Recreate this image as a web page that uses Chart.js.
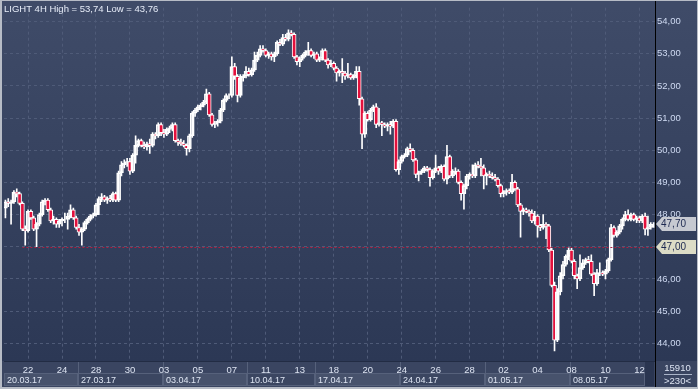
<!DOCTYPE html>
<html>
<head>
<meta charset="utf-8">
<script src="https://cdn.jsdelivr.net/npm/chart.js@4/dist/chart.umd.min.js"></script>
<style>
  html, body { margin: 0; padding: 0; background: #b7bcc6; }
  canvas { display: block; }
</style>
</head>
<body>
<canvas id="chart" width="698" height="389"></canvas>
<script>
// LIGHT 4H candles, 20.03.17 - 12.05.17 (230 bars)
const opens = [
  48.20,48.40,48.35,48.40,48.70,48.65,48.35,47.55,47.50,48.10,
  47.90,47.55,47.70,48.00,48.40,48.45,48.15,47.80,47.85,47.70,
  47.80,47.85,47.85,47.95,48.15,47.90,47.60,47.45,47.55,47.75,
  47.85,47.95,48.00,48.30,48.50,48.55,48.45,48.50,48.45,48.65,
  48.45,49.30,49.55,49.60,49.65,49.35,49.85,50.15,50.30,50.15,
  50.10,50.20,50.15,50.50,50.45,50.80,50.55,50.50,50.65,50.70,
  50.80,50.30,50.25,50.20,50.15,50.05,50.45,51.15,51.25,51.35,
  51.40,51.50,51.75,51.10,50.80,50.85,50.90,51.25,51.55,51.70,
  51.70,52.60,52.30,51.70,52.25,52.30,52.45,52.35,52.50,52.80,
  52.95,53.15,53.10,52.95,53.00,52.90,53.00,53.35,53.30,53.50,
  53.45,53.65,53.60,52.90,52.75,52.85,52.95,53.05,53.10,52.95,
  53.00,52.80,52.85,53.10,52.80,52.65,52.70,52.55,52.40,52.45,
  52.40,52.30,52.35,52.25,52.30,52.45,51.60,50.50,51.15,50.95,
  51.25,51.35,50.80,50.85,50.80,50.75,50.80,50.75,50.90,49.40,
  49.65,49.80,49.85,50.05,50.00,49.70,49.25,49.30,49.35,49.45,
  49.40,49.15,49.35,49.45,49.35,49.50,49.10,49.80,49.20,49.35,
  49.35,49.00,48.65,48.90,49.20,49.25,49.20,49.55,49.50,49.45,
  49.20,49.25,49.20,49.15,49.10,48.90,48.65,48.70,48.75,48.70,
  49.00,48.80,48.30,48.10,48.15,48.10,48.05,47.80,47.95,47.65,
  47.60,47.70,47.65,46.90,45.80,44.10,45.60,46.10,46.45,46.70,
  46.90,46.55,46.10,46.00,46.35,46.50,46.60,46.55,46.15,45.85,
  46.20,46.20,46.15,46.25,46.60,47.60,47.35,47.45,47.65,47.85,
  48.00,47.85,48.00,47.85,47.90,47.80,47.95,47.55,47.60,47.70
];
const highs = [
  48.45,48.50,48.45,48.75,48.80,48.70,48.40,47.65,48.15,48.15,
  47.95,47.75,48.05,48.45,48.50,48.50,48.20,47.95,47.90,47.85,
  47.90,48.05,48.05,48.30,48.20,47.95,47.70,47.60,47.80,47.90,
  48.00,48.05,48.35,48.55,48.65,48.60,48.55,48.60,48.70,48.70,
  49.35,49.65,49.70,49.75,49.75,49.90,50.45,50.35,50.35,50.25,
  50.25,50.35,50.55,50.55,50.85,50.85,50.65,50.70,50.75,50.85,
  50.85,50.35,50.35,50.30,50.20,50.50,51.20,51.30,51.40,51.45,
  51.55,51.90,51.80,51.15,50.90,50.95,51.30,51.60,51.75,51.75,
  52.90,52.70,52.35,52.35,52.35,52.60,52.55,52.55,53.05,53.05,
  53.25,53.25,53.15,53.05,53.05,53.05,53.40,53.45,53.60,53.60,
  53.74,53.72,53.65,52.95,52.90,53.00,53.10,53.35,53.15,53.05,
  53.05,52.90,53.15,53.15,52.85,52.80,52.75,52.60,52.50,52.85,
  52.45,52.70,52.40,52.35,52.60,52.60,51.65,51.20,51.20,51.30,
  51.40,51.45,51.30,50.90,50.85,50.85,50.90,50.95,50.95,49.70,
  49.85,49.90,50.10,50.20,50.05,49.75,49.35,49.40,49.50,49.50,
  49.45,49.40,49.85,49.50,49.55,49.55,50.15,49.85,49.40,49.45,
  49.40,49.05,48.95,49.25,49.30,49.55,49.60,49.65,49.75,49.55,
  49.30,49.35,49.30,49.25,49.15,48.95,48.75,48.80,48.80,49.25,
  49.05,48.85,48.35,48.20,48.20,48.15,48.15,48.10,48.00,47.70,
  48.00,47.75,47.70,46.95,45.90,45.70,46.20,46.55,46.75,46.97,
  46.95,46.60,46.15,46.75,46.60,46.65,46.70,46.75,46.20,46.30,
  46.50,46.25,46.30,46.65,47.70,47.65,47.50,47.70,47.90,48.10,
  48.15,48.05,48.05,47.95,47.95,48.00,48.05,47.95,47.75,47.75
];
const lows = [
  47.90,48.25,47.70,48.35,48.55,48.30,47.50,47.05,47.45,47.85,
  47.50,47.00,47.65,47.95,48.30,48.10,47.75,47.70,47.60,47.60,
  47.65,47.75,47.55,47.90,47.85,47.55,47.35,47.05,47.50,47.70,
  47.80,47.90,47.95,48.00,48.40,48.40,48.35,48.40,48.40,48.40,
  48.40,49.20,49.45,49.50,49.25,49.30,49.60,50.10,50.10,50.05,
  50.00,49.90,50.10,50.35,50.40,50.45,50.40,50.45,50.55,50.60,
  50.25,50.15,50.15,50.10,49.85,49.95,50.40,51.05,51.20,51.25,
  51.35,51.45,51.05,50.75,50.70,50.75,50.85,51.20,51.50,51.60,
  51.65,52.20,51.50,51.65,52.15,52.25,52.30,52.30,52.45,52.75,
  52.90,53.05,52.90,52.85,52.80,52.75,52.95,53.25,53.25,53.40,
  53.40,53.55,52.85,52.65,52.60,52.80,52.90,52.95,52.90,52.85,
  52.75,52.75,52.80,52.75,52.55,52.60,52.50,52.15,52.30,52.10,
  52.20,52.25,52.20,52.20,52.25,51.40,50.05,50.40,50.90,50.90,
  51.20,50.70,50.75,50.45,50.70,50.60,50.50,50.70,49.35,49.25,
  49.60,49.75,49.80,49.95,49.65,49.15,49.05,49.25,49.30,49.35,
  48.88,49.10,49.30,49.25,49.30,49.05,48.95,49.15,49.15,49.25,
  48.95,48.45,48.17,48.80,49.10,49.15,49.15,49.45,49.20,48.80,
  48.92,49.15,49.10,49.05,48.85,48.55,48.55,48.60,48.65,48.65,
  48.75,48.25,47.30,48.00,48.05,47.95,47.75,47.70,47.30,47.50,
  47.55,47.25,46.85,45.75,43.76,44.05,45.50,46.00,46.40,46.60,
  46.50,46.00,45.70,45.95,46.30,46.45,46.50,46.10,45.48,45.80,
  46.10,46.10,46.00,46.20,46.55,47.30,47.30,47.40,47.55,47.80,
  47.80,47.80,47.80,47.75,47.75,47.75,47.37,47.35,47.55,47.60
];
const closes = [
  48.40,48.35,48.40,48.70,48.65,48.35,47.55,47.50,48.10,47.90,
  47.55,47.70,48.00,48.40,48.45,48.15,47.80,47.85,47.70,47.80,
  47.85,47.85,47.95,48.15,47.90,47.60,47.45,47.55,47.75,47.85,
  47.95,48.00,48.30,48.50,48.55,48.45,48.50,48.45,48.65,48.45,
  49.30,49.55,49.60,49.65,49.35,49.85,50.15,50.30,50.15,50.10,
  50.20,50.15,50.50,50.45,50.80,50.55,50.50,50.65,50.70,50.80,
  50.30,50.25,50.20,50.15,50.05,50.45,51.15,51.25,51.35,51.40,
  51.50,51.75,51.10,50.80,50.85,50.90,51.25,51.55,51.70,51.70,
  52.60,52.30,51.70,52.25,52.30,52.45,52.35,52.50,52.80,52.95,
  53.15,53.10,52.95,53.00,52.90,53.00,53.35,53.30,53.50,53.45,
  53.65,53.60,52.90,52.75,52.85,52.95,53.05,53.10,52.95,53.00,
  52.80,52.85,53.10,52.80,52.65,52.70,52.55,52.40,52.45,52.40,
  52.30,52.35,52.25,52.30,52.45,51.60,50.50,51.15,50.95,51.25,
  51.35,50.80,50.85,50.80,50.75,50.80,50.75,50.90,49.40,49.65,
  49.80,49.85,50.05,50.00,49.70,49.25,49.30,49.35,49.45,49.40,
  49.15,49.35,49.45,49.35,49.50,49.10,49.80,49.20,49.35,49.35,
  49.00,48.65,48.90,49.20,49.25,49.20,49.55,49.50,49.45,49.20,
  49.25,49.20,49.15,49.10,48.90,48.65,48.70,48.75,48.70,49.00,
  48.80,48.30,48.10,48.15,48.10,48.05,47.80,47.95,47.65,47.60,
  47.70,47.65,46.90,45.80,44.10,45.60,46.10,46.45,46.70,46.90,
  46.55,46.10,46.00,46.35,46.50,46.60,46.55,46.15,45.85,46.20,
  46.20,46.15,46.25,46.60,47.60,47.35,47.45,47.65,47.85,48.00,
  47.85,48.00,47.85,47.90,47.80,47.95,47.55,47.60,47.70,47.70
];

// x axis: day labels every second trading day, week blocks below
const dayTickIndex = [8,20,32,44,56,68,80,92,104,116,128,140,152,164,176,188,200,212,224];
const dayTickLabels = ['22','24','28','30','03','05','07','11','13','18','20','24','26','28','02','04','08','10','12'];
const weekStartIndex = [0,26,56,86,110,140,170,200];
const weekLabels = ['20.03.17','27.03.17','03.04.17','10.04.17','17.04.17','24.04.17','01.05.17','08.05.17'];

const titleText = 'LIGHT 4H High = 53,74 Low = 43,76';
const refLevel = 47.00;
const refStartIndex = 6;
const volumeText = '15910';
const barsText = '>230<';

const FONT = 'Liberation Sans, Arial, sans-serif';
const fmt = v => v.toFixed(2).replace('.', ',');

const bodyFill = closes.map((c, i) => c < opens[i] ? '#e3103c' : 'rgba(0,0,0,0)');

const backdrop = {
  id: 'backdrop',
  beforeDraw(chart) {
    const { ctx, chartArea: a, width: W, height: H } = chart;
    ctx.save();
    ctx.fillStyle = '#b7bcc6';
    ctx.fillRect(0, 0, W, H);

    const g = ctx.createLinearGradient(0, a.top, 0, a.bottom);
    g.addColorStop(0, '#3f4b68');
    g.addColorStop(1, '#2c3855');
    ctx.fillStyle = g;
    ctx.fillRect(2, 1, W - 3, a.bottom - 1);

    // bottom strip
    ctx.fillStyle = '#3a4561';
    ctx.fillRect(2, a.bottom, W - 3, H - 2 - a.bottom);

    const xs = chart.scales.x;
    const half = (xs.getPixelForValue(1) - xs.getPixelForValue(0)) / 2;
    const boxTop = a.bottom + 12;
    ctx.font = '9px ' + FONT;
    ctx.textBaseline = 'middle';
    ctx.textAlign = 'left';
    for (let w = 0; w < weekStartIndex.length; w++) {
      const x0 = w === 0 ? a.left : Math.round(xs.getPixelForValue(weekStartIndex[w]) - half);
      const x1 = w === weekStartIndex.length - 1 ? a.right - 10 : Math.round(xs.getPixelForValue(weekStartIndex[w + 1]) - half);
      ctx.fillStyle = w % 2 === 0 ? '#47526c' : '#3b4661';
      ctx.fillRect(x0, boxTop, x1 - x0, H - 3 - boxTop);
      ctx.strokeStyle = '#56617b';
      ctx.lineWidth = 1;
      ctx.strokeRect(x0 + 0.5, boxTop + 0.5, x1 - x0 - 1, H - 4 - boxTop);
      if (w > 0) {
        ctx.beginPath();
        ctx.moveTo(x0 + 0.5, a.bottom);
        ctx.lineTo(x0 + 0.5, boxTop);
        ctx.stroke();
      }
      ctx.fillStyle = '#dde4f2';
      ctx.fillText(weekLabels[w], x0 + 3, boxTop + 7.5);
    }
    // scroller end
    ctx.fillStyle = '#2a3550';
    ctx.fillRect(a.right - 10, a.bottom + 1, 9, H - 3 - a.bottom - 1);
    ctx.restore();
  },
  afterDraw(chart) {
    const { ctx, chartArea: a, width: W, height: H } = chart;
    const xs = chart.scales.x, ys = chart.scales.y;
    ctx.save();

    // reference level
    const ry = Math.round(ys.getPixelForValue(refLevel)) + 0.5;
    ctx.strokeStyle = '#b01f40';
    ctx.lineWidth = 1;
    ctx.setLineDash([2, 2]);
    ctx.beginPath();
    ctx.moveTo(xs.getPixelForValue(refStartIndex), ry);
    ctx.lineTo(a.right, ry);
    ctx.stroke();
    ctx.setLineDash([]);

    // right axis separator down to the bottom
    ctx.strokeStyle = '#000000';
    ctx.beginPath();
    ctx.moveTo(a.right + 0.5, 1);
    ctx.lineTo(a.right + 0.5, H - 2);
    ctx.stroke();

    // price tags
    const tag = (v, fill) => {
      const y = Math.round(ys.getPixelForValue(v));
      const x0 = a.right + 1, x1 = W - 2;
      ctx.fillStyle = fill;
      ctx.beginPath();
      ctx.moveTo(x0, y);
      ctx.lineTo(x0 + 6, y - 7);
      ctx.lineTo(x1, y - 7);
      ctx.lineTo(x1, y + 7);
      ctx.lineTo(x0 + 6, y + 7);
      ctx.closePath();
      ctx.fill();
      ctx.fillStyle = '#1c2850';
      ctx.font = '10px ' + FONT;
      ctx.textAlign = 'left';
      ctx.textBaseline = 'middle';
      ctx.fillText(fmt(v), x0 + 5, y + 0.5);
    };
    tag(closes[closes.length - 1], '#c6c9d1');
    tag(refLevel, '#dcdcc6');

    // bottom right info box
    const cx = (a.right + W) / 2;
    ctx.fillStyle = '#dde4f2';
    ctx.font = '9.5px ' + FONT;
    ctx.textAlign = 'center';
    ctx.textBaseline = 'middle';
    ctx.fillText(volumeText, cx + 1, a.bottom + 7);
    ctx.fillText(barsText, cx + 1, a.bottom + 20.5);
    ctx.strokeStyle = '#aab4c8';
    ctx.beginPath();
    ctx.moveTo(a.right + 9, a.bottom + 13.5);
    ctx.lineTo(W - 6, a.bottom + 13.5);
    ctx.stroke();

    // title
    ctx.textAlign = 'left';
    ctx.fillStyle = '#e6ecf8';
    ctx.font = '9.5px ' + FONT;
    ctx.fillText(titleText, a.left, 9);
    ctx.restore();
  }
};

new Chart(document.getElementById('chart'), {
  type: 'bar',
  data: {
    labels: closes.map((_, i) => i),
    datasets: [
      {
        label: 'wick',
        data: lows.map((l, i) => [l, highs[i]]),
        backgroundColor: '#ffffff',
        barThickness: 1,
        grouped: false,
        order: 2
      },
      {
        label: 'body',
        data: opens.map((o, i) => [o, closes[i]]),
        backgroundColor: bodyFill,
        borderColor: '#ffffff',
        borderWidth: 1,
        borderSkipped: false,
        barThickness: 4,
        grouped: false,
        order: 1
      }
    ]
  },
  options: {
    responsive: false,
    animation: false,
    devicePixelRatio: 1,
    layout: { padding: { left: 4, top: 2, right: 1, bottom: 2 } },
    plugins: { legend: { display: false }, tooltip: { enabled: false } },
    scales: {
      x: {
        type: 'category',
        offset: true,
        afterBuildTicks: s => { s.ticks = dayTickIndex.map(v => ({ value: v })); },
        afterFit: s => { s.height = 26; },
        grid: { color: '#4f5b78', offset: false, drawTicks: false },
        border: { display: true, color: '#222c44', dash: [3, 3] },
        ticks: {
          autoSkip: false, maxRotation: 0, minRotation: 0, padding: 4,
          color: '#dde4f2', font: { family: FONT, size: 9.5 },
          callback: (v, i) => dayTickLabels[i]
        }
      },
      y: {
        position: 'right',
        min: 43.45,
        max: 54.43,
        afterFit: s => { s.width = 42; },
        grid: { color: '#4f5b78', drawTicks: false },
        border: { display: true, color: '#000000', dash: [3, 3] },
        ticks: {
          stepSize: 1, includeBounds: false, padding: 2,
          color: '#cfdaf2', font: { family: FONT, size: 9.5 },
          callback: v => fmt(v)
        }
      }
    }
  },
  plugins: [backdrop]
});
</script>
</body>
</html>
